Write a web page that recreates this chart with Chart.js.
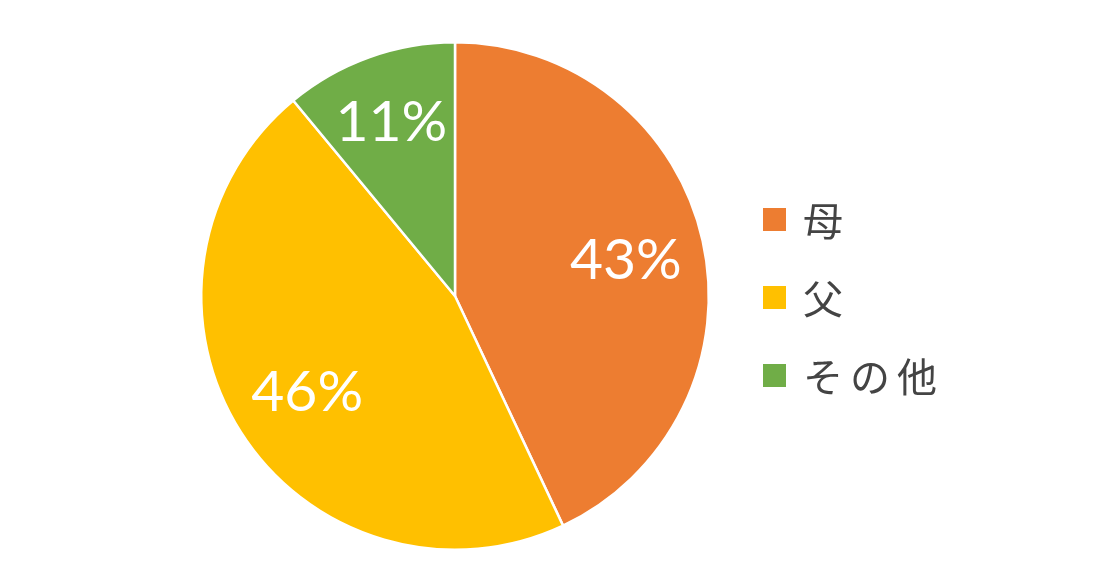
<!DOCTYPE html>
<html lang="ja">
<head>
<meta charset="utf-8">
<script src="https://cdn.jsdelivr.net/npm/chart.js@4/dist/chart.umd.min.js"></script>
<style>
  html, body { margin: 0; padding: 0; background: #fff; }
  #wrap { position: relative; width: 1100px; height: 577px; }
  #legend {
    position: absolute; left: 763px; top: 180px; margin: 0; padding: 0; list-style: none;
    font-family: "Noto Sans CJK JP", sans-serif; font-size: 40px; color: #444444;
    letter-spacing: 7px;
  }
  #legend li { display: flex; align-items: center; height: 78px; }
  #legend .box { width: 23px; height: 23px; margin-right: 17px; }
</style>
</head>
<body>
<div id="wrap">
  <canvas id="pie"></canvas>
  <ul id="legend"></ul>
</div>
<script>
const labels = ['母', '父', 'その他']
const shares = [43, 46, 11]
const colors = ['#ED7D31', '#FFC000', '#70AD47']

// draws "43%" etc. inside each slice
const sliceLabels = {
  id: 'sliceLabels',
  afterDatasetsDraw(chart) {
    const { ctx } = chart
    const meta = chart.getDatasetMeta(0)
    ctx.save()
    ctx.fillStyle = '#ffffff'
    ctx.font = '57px Lato, "Noto Sans", sans-serif'
    ctx.textAlign = 'center'
    ctx.textBaseline = 'middle'
    meta.data.forEach((arc, i) => {
      const { x, y, startAngle, endAngle, outerRadius } = arc.getProps(['x', 'y', 'startAngle', 'endAngle', 'outerRadius'], true)
      const mid = (startAngle + endAngle) / 2
      const r = outerRadius * (shares[i] < 20 ? 0.74 : 0.69)
      ctx.fillText(`${shares[i]}%`, x + Math.cos(mid) * r, y + Math.sin(mid) * r + 3)
    })
    ctx.restore()
  },
}

const legendEl = document.getElementById('legend')
labels.forEach((label, i) => {
  const li = document.createElement('li')
  const box = document.createElement('span')
  box.className = 'box'
  box.style.background = colors[i]
  li.appendChild(box)
  li.appendChild(document.createTextNode(label))
  legendEl.appendChild(li)
})

const ctx = document.getElementById('pie').getContext('2d')
new Chart(ctx, {
  type: 'pie',
  data: {
    labels,
    datasets: [
      {
        data: shares,
        backgroundColor: colors,
        borderColor: '#ffffff',
        borderWidth: 2.5,
      },
    ],
  },
  options: {
    responsive: true,
    maintainAspectRatio: false,
    animation: false,
    layout: {
      padding: { left: 200, right: 390, top: 41, bottom: 26 },
    },
    plugins: {
      legend: { display: false },
      tooltip: { enabled: false },
    },
  },
  plugins: [sliceLabels],
})
</script>
</body>
</html>
